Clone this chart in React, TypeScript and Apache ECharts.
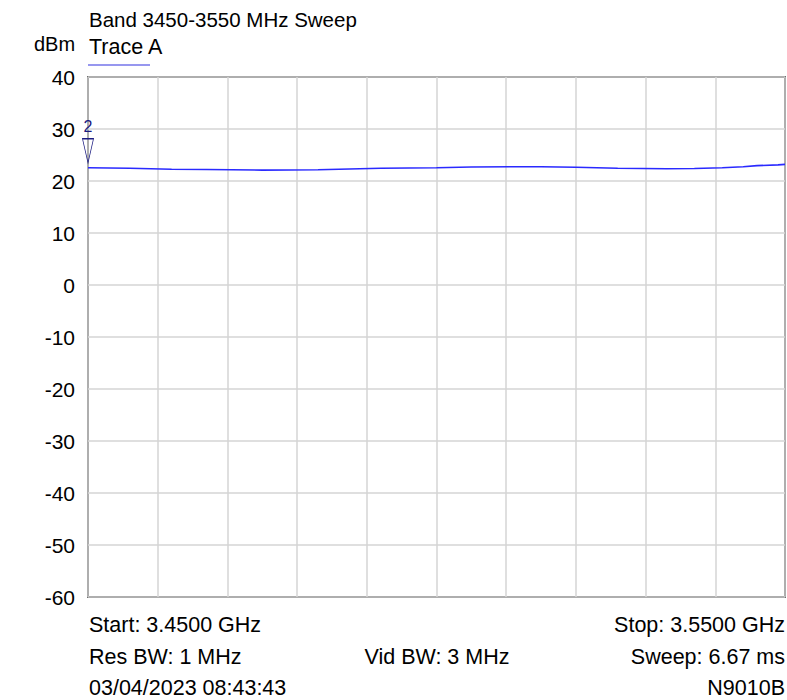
import React, { useEffect, useRef } from "react";
import * as echarts from "echarts";

const freqMHz = [3450, 3456, 3462, 3467, 3475, 3483, 3486, 3492, 3500, 3505, 3515, 3520, 3526, 3533, 3537, 3541, 3544, 3546, 3549, 3550];
const levelDbm = [22.55, 22.45, 22.25, 22.2, 22.1, 22.15, 22.25, 22.45, 22.55, 22.7, 22.75, 22.65, 22.45, 22.35, 22.4, 22.55, 22.75, 22.95, 23.1, 23.2];
const yTicks = { min: -60, max: 40, step: 10 };
const xRange = { min: 3450, max: 3550, step: 10 };
const marker = { label: "2", freq: 3450, level: 22.55 };
const title = "Band 3450-3550 MHz Sweep";
const traceName = "Trace A";
const yUnit = "dBm";
const footer = {
  start: "Start: 3.4500 GHz",
  stop: "Stop: 3.5500 GHz",
  res: "Res BW: 1 MHz",
  vid: "Vid BW: 3 MHz",
  sweep: "Sweep: 6.67 ms",
  date: "03/04/2023 08:43:43",
  model: "N9010B",
};

export default function App() {
  const ref = useRef<HTMLDivElement>(null);
  useEffect(() => {
    if (!ref.current) return;
    const chart = echarts.init(ref.current, undefined, { renderer: "svg" });
    const font = "'Liberation Sans', Arial, sans-serif";
    const txt = (text: string, x: number, y: number, size: number, align: string = "left") => ({
      type: "text",
      x,
      y,
      style: { text, fill: "#000", font: `${size}px ${font}`, textAlign: align, textVerticalAlign: "middle" },
    });
    const data = freqMHz.map((f, i) => [f, levelDbm[i]]);
    chart.setOption({
      animation: false,
      backgroundColor: "#fff",
      grid: { left: 88, top: 77, right: 2, bottom: 103, show: true, borderColor: "#000", borderWidth: 1.5, backgroundColor: "transparent" },
      xAxis: {
        type: "value",
        min: xRange.min,
        max: xRange.max,
        interval: xRange.step,
        axisLine: { show: false },
        axisTick: { show: false },
        axisLabel: { show: false },
        splitLine: { show: true, lineStyle: { color: "#d4d4d4", width: 1.5 } },
      },
      yAxis: {
        type: "value",
        min: yTicks.min,
        max: yTicks.max,
        interval: yTicks.step,
        axisLine: { show: false },
        axisTick: { show: false },
        axisLabel: { color: "#000", fontSize: 21, fontFamily: font, margin: 13 },
        splitLine: { show: true, lineStyle: { color: "#d4d4d4", width: 1.5 } },
      },
      series: [
        {
          type: "line",
          data,
          showSymbol: false,
          lineStyle: { color: "#2a2aff", width: 1.6 },
          markPoint: {
            silent: true,
            data: [
              {
                coord: [marker.freq, marker.level],
                symbol: "path://M0,0 L10,0 L5,24 Z",
                symbolSize: [11, 24],
                symbolOffset: [0, -17],
                itemStyle: { color: "rgba(0,0,0,0)", borderColor: "#1a1a80", borderWidth: 1 },
                label: { show: true, formatter: marker.label, position: "top", distance: 4, color: "#1a1a80", fontSize: 16, fontFamily: font },
              },
            ],
          },
        },
      ],
      graphic: [
        txt(title, 89, 19, 20.5),
        txt(yUnit, 34, 44, 20),
        txt(traceName, 89, 47, 21.5),
        { type: "line", shape: { x1: 88, y1: 65, x2: 150, y2: 65 }, style: { stroke: "#3030e0", lineWidth: 1.2 } },
        txt(footer.start, 89, 625, 21.5),
        txt(footer.stop, 785, 625, 21.5, "right"),
        txt(footer.res, 89, 657, 21.5),
        txt(footer.vid, 437, 657, 21.5, "center"),
        txt(footer.sweep, 785, 657, 21.5, "right"),
        txt(footer.date, 89, 688, 21.5),
        txt(footer.model, 785, 688, 21.5, "right"),
      ],
    });
    return () => chart.dispose();
  }, []);
  return <div ref={ref} style={{ position: "absolute", left: 0, top: 0, width: 787, height: 700 }} />;
}
